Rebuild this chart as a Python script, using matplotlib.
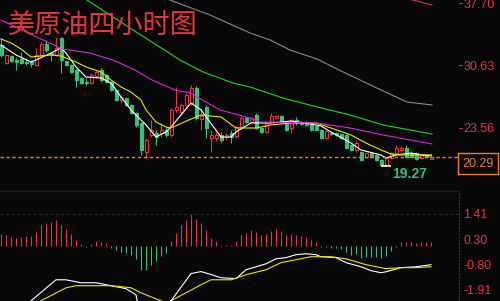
import matplotlib
matplotlib.use("Agg")
import matplotlib.pyplot as plt
from matplotlib.transforms import blended_transform_factory

# 美原油四小时图：K线 + 均线 + MACD
title = "美原油四小时图"

opens = [32.95, 30.91, 31.71, 31.25, 31.37, 31.03, 31.03, 30.69, 31.82, 33.06,
         32.04, 31.82, 33.74, 31.14, 30.69, 30.12, 29.22, 28.76, 28.65, 29.44,
         30.12, 29.56, 28.76, 27.86, 26.73, 26.95, 26.16, 25.26, 24.13, 20.85,
         22.77, 22.99, 22.99, 23.33, 22.77, 25.60, 25.37, 26.16, 26.39, 28.09,
         24.58, 25.94, 22.43, 22.43, 22.77, 22.54, 22.99, 22.66, 23.67, 24.69,
         24.24, 25.03, 23.56, 23.11, 24.24, 24.69, 24.92, 24.24, 23.56, 24.47,
         24.24, 24.24, 24.13, 23.79, 23.33, 22.43, 22.99, 22.99, 22.88, 22.77,
         21.64, 21.07, 20.85, 20.28, 20.73, 20.51, 19.94, 19.38, 20.17, 20.73,
         21.07, 21.30, 20.73, 20.73, 20.17, 20.51, 20.08]
highs = [33.74, 31.93, 31.82, 31.59, 32.16, 31.48, 31.25, 32.61, 33.29, 33.52,
         32.16, 33.85, 33.85, 31.25, 30.80, 30.23, 29.33, 29.22, 29.78, 30.12,
         30.35, 29.67, 28.88, 27.97, 27.29, 27.07, 26.27, 25.37, 24.24, 22.43,
         24.47, 23.33, 24.13, 23.67, 25.82, 28.20, 26.39, 27.52, 28.42, 28.31,
         25.82, 26.16, 23.33, 23.11, 23.11, 22.99, 23.33, 23.90, 24.92, 24.80,
         24.80, 25.26, 23.67, 24.24, 25.26, 25.03, 25.03, 24.35, 24.58, 24.80,
         24.35, 24.35, 24.24, 23.90, 23.45, 23.33, 23.11, 23.11, 22.99, 22.88,
         21.75, 22.20, 20.96, 20.85, 20.85, 20.62, 20.05, 20.28, 20.85, 21.64,
         21.52, 21.64, 20.85, 20.85, 20.62, 20.62, 20.75]
lows = [31.59, 30.80, 31.03, 30.12, 30.80, 30.69, 30.46, 30.57, 31.71, 32.16,
        31.14, 31.71, 29.78, 30.57, 29.78, 28.20, 28.54, 28.42, 28.54, 29.22,
        28.76, 28.65, 27.75, 26.61, 26.39, 26.05, 25.14, 23.67, 20.51, 20.17,
        22.54, 21.64, 22.54, 22.54, 22.54, 25.37, 25.03, 25.94, 26.16, 24.47,
        23.33, 22.43, 20.85, 22.09, 21.98, 22.20, 21.86, 22.43, 23.45, 24.13,
        24.13, 23.45, 22.99, 22.99, 24.13, 24.58, 24.13, 23.22, 22.99, 23.90,
        23.90, 23.79, 23.22, 23.22, 22.32, 22.32, 22.77, 22.66, 22.32, 21.18,
        20.96, 20.85, 19.83, 20.17, 20.17, 19.83, 19.38, 19.27, 20.05, 20.51,
        20.96, 20.17, 20.17, 19.94, 20.05, 20.17, 20.00]
closes = [31.82, 31.82, 31.14, 31.03, 30.91, 30.91, 30.80, 31.82, 33.06, 32.38,
          31.82, 32.61, 31.25, 30.69, 29.90, 28.99, 28.65, 28.65, 29.56, 29.90,
          28.99, 28.76, 27.86, 26.73, 27.07, 26.16, 25.26, 23.90, 21.07, 22.20,
          23.33, 22.54, 23.33, 22.77, 25.60, 25.94, 26.16, 27.29, 28.09, 24.69,
          24.92, 23.56, 22.77, 22.77, 22.20, 22.77, 22.54, 23.67, 24.69, 24.24,
          24.69, 23.56, 23.11, 24.13, 24.92, 24.92, 24.24, 23.33, 24.47, 24.13,
          24.01, 23.90, 23.33, 23.33, 22.43, 23.22, 22.88, 22.77, 22.43, 21.30,
          21.07, 21.86, 19.94, 20.73, 20.28, 19.94, 19.38, 20.17, 20.73, 21.30,
          21.30, 20.28, 20.28, 20.05, 20.51, 20.28, 20.29]

# 均线（读图取点）
ma5_x = [0, 3, 6, 7, 10, 12, 13, 15, 17, 20, 22, 24, 26, 29, 31, 33, 34, 38, 40,
         44, 46, 47, 50, 54, 58, 62, 64, 66, 70, 72, 76, 77, 79, 82, 84, 86]
ma5_y = [32.95, 31.82, 31.03, 31.25, 32.04, 32.61, 32.04, 30.46, 29.33, 29.22,
         28.65, 27.07, 25.60, 23.90, 22.54, 23.11, 23.67, 26.39, 25.60, 22.54,
         22.54, 23.11, 24.13, 24.13, 24.35, 24.01, 23.79, 23.11, 21.86, 21.07,
         20.51, 20.17, 20.51, 20.73, 20.51, 20.40]
ma10_x = [0, 2, 4, 6, 8, 10, 12, 15, 17, 20, 22, 24, 26, 28, 29, 31, 33, 34, 38,
          40, 44, 47, 51, 54, 58, 63, 66, 70, 73, 76, 78, 80, 86]
ma10_y = [33.63, 33.18, 32.50, 31.59, 31.71, 31.82, 31.71, 31.03, 30.46, 29.90,
          28.99, 28.20, 27.63, 26.73, 25.60, 24.24, 23.67, 23.56, 24.58, 25.03,
          24.80, 23.56, 23.56, 23.90, 24.13, 24.13, 23.56, 22.77, 21.86, 21.07,
          20.62, 20.51, 20.51]
ma20_x = [0, 8.4, 12.2, 17.8, 22.4, 26.8, 30.2, 34.8, 37.8, 43.8, 49.8, 51.8, 63,
          69.8, 76.4, 86.2]
ma20_y = [35.78, 33.52, 32.50, 32.04, 31.25, 30.12, 28.99, 27.86, 27.52, 25.60,
          24.69, 24.24, 24.13, 23.56, 22.77, 21.75]
ma60_x = [15.8, 17.2, 26.4, 35.8, 40.4, 46.4, 49.8, 56.4, 63.2, 69.8, 76.4, 86.2]
ma60_y = [38.61, 38.04, 34.65, 31.25, 29.90, 28.65, 28.20, 26.95, 25.94, 25.03,
          23.90, 22.88]
ma120_x = [32.8, 33.8, 41.8, 49.8, 53.8, 57.8, 63.2, 68.4, 71.8, 76.4, 81.2, 86.2]
ma120_y = [38.27, 38.04, 36.34, 34.31, 33.52, 32.38, 31.37, 29.90, 28.99, 27.75,
           26.50, 26.16]
ma250_x = [80.8, 82.4, 86.2]
ma250_y = [38.27, 38.04, 37.47]

price_ticks = [37.70, 30.63, 23.56]
price_labels = ["37.70", "30.63", "23.56"]
last_price = 20.29
low_price = 19.27

# MACD
macd_bar = [0.51, 0.47, 0.41, 0.36, 0.38, 0.43, 0.43, 0.60, 0.91, 1.00,
            1.04, 1.13, 0.91, 0.73, 0.51, 0.28, 0.07, -0.06, 0.07, 0.21,
            0.16, 0.12, -0.07, -0.19, -0.25, -0.32, -0.39, -0.58, -1.07, -1.07,
            -0.82, -0.67, -0.45, -0.32, 0.21, 0.57, 0.91, 1.13, 1.39, 1.17,
            1.00, 0.69, 0.34, 0.21, 0.03, 0.03, 0.03, 0.21, 0.47, 0.56,
            0.69, 0.60, 0.47, 0.51, 0.64, 0.73, 0.64, 0.47, 0.51, 0.47,
            0.43, 0.38, 0.25, 0.16, -0.04, -0.06, -0.10, -0.10, -0.14, -0.28,
            -0.41, -0.36, -0.54, -0.50, -0.50, -0.50, -0.54, -0.45, -0.23, -0.06,
            0.16, 0.16, 0.16, 0.12, 0.16, 0.16, 0.16]
dif_x = [5, 6, 11, 13, 16, 19, 22, 25, 27, 28, 33, 34, 38, 40, 42, 44, 47, 49, 51,
         53, 55, 57, 59, 61, 63, 64, 67, 69, 72, 74, 76, 77, 80, 83, 86]
dif_y = [-2.84, -2.40, -1.48, -1.48, -1.61, -1.61, -1.74, -1.87, -2.14, -3.23,
         -3.23, -2.40, -1.21, -1.12, -1.25, -1.39, -1.43, -1.04, -0.91, -0.78,
         -0.56, -0.51, -0.38, -0.34, -0.38, -0.47, -0.51, -0.73, -0.91, -1.08,
         -1.17, -1.13, -0.95, -0.91, -0.82]
dea_x = [7, 8, 13, 15, 18, 22, 26, 28, 32, 33, 34, 37, 40, 42, 44, 46, 49, 53, 56,
         59, 62, 66, 69, 73, 77, 80, 83, 86]
dea_y = [-2.84, -2.40, -1.83, -1.74, -1.74, -1.74, -1.83, -2.05, -2.40, -2.53,
         -2.40, -2.05, -1.70, -1.48, -1.48, -1.48, -1.26, -1.04, -0.73, -0.60,
         -0.47, -0.47, -0.56, -0.82, -0.99, -0.95, -0.95, -0.91]
macd_ticks = [1.41, 0.30, -0.80, -1.91]
macd_labels = ["1.41", "0.30", "-0.80", "-1.91"]

BG = "#080808"
RED = "#f0303c"
GREEN = "#34c27a"
ORANGE = "#e8821e"

plt.rcParams['font.family'] = ['Liberation Sans', 'DejaVu Sans']

fig = plt.figure(figsize=(5, 3.01), dpi=100, facecolor=BG)
ax = fig.add_axes([0, 110 / 301, 459 / 500, 191 / 301], facecolor=BG)
ax2 = fig.add_axes([0, 0, 459 / 500, 110 / 301], facecolor=BG)

n = len(closes)
idx = list(range(n))

# K线：阳线空心红，阴线实心绿
for i in idx:
    up = closes[i] >= opens[i]
    col = RED if up else GREEN
    ax.vlines(i, lows[i], highs[i], color=col, lw=0.8, zorder=2)
    lo = min(opens[i], closes[i])
    h = max(abs(closes[i] - opens[i]), 0.06)
    ax.bar(i, h, bottom=lo, width=0.6, facecolor=BG if up else GREEN,
           edgecolor=col, linewidth=0.8, zorder=3)

ax.plot(ma5_x, ma5_y, color="white", lw=0.8, zorder=4)
ax.plot(ma10_x, ma10_y, color="#e8e800", lw=0.8, zorder=4)
ax.plot(ma20_x, ma20_y, color="#e020e0", lw=0.8, zorder=4)
ax.plot(ma60_x, ma60_y, color="#20d820", lw=0.8, zorder=4)
ax.plot(ma120_x, ma120_y, color="#8a8a8a", lw=0.8, zorder=4)
ax.plot(ma250_x, ma250_y, color="#e03030", lw=0.8, zorder=4)

ax.axhline(last_price, color=ORANGE, lw=1.0, dashes=(2.4, 1.9), zorder=5,
           clip_on=False)

i_low = lows.index(min(lows))
ax.plot(i_low, low_price, marker='_', ms=7, mew=1.2, color="white", zorder=6)
ax.annotate(f"{low_price:.2f}", xy=(i_low, low_price), xytext=(4.5, -5.5),
            textcoords="offset points", color=GREEN, fontsize=10,
            fontweight="bold", ha="left", va="center")

trans = blended_transform_factory(ax.transAxes, ax.transData)
ax.annotate(f"{last_price:.2f}", xy=(1.0, last_price), xycoords=trans,
            xytext=(2.6, -5.0), textcoords="offset points", color=ORANGE,
            fontsize=9, ha="left", va="center", annotation_clip=False,
            bbox=dict(boxstyle="square,pad=0.35", fc=BG, ec=ORANGE, lw=1.0))

ax.set_xlim(-0.2, 91.6)
ax.set_ylim(16.43, 38.04)
ax.set_xticks([])
ax.yaxis.tick_right()
ax.set_yticks(price_ticks)
ax.set_yticklabels(price_labels)
ax.tick_params(axis='y', colors=RED, labelcolor=RED, labelsize=9,
               length=2.2, width=0.8, pad=0.8)
for s in ax.spines.values():
    s.set_visible(False)

fig.text(8 / 500, 1 - 13 / 301, title, color="#e8343a", fontsize=19.5,
         family=['Noto Sans CJK SC', 'DejaVu Sans'], ha="left", va="top")

# MACD
bar_cols = [RED if v >= 0 else GREEN for v in macd_bar]
ax2.vlines(idx, 0, macd_bar, colors=bar_cols, lw=0.8)
ax2.plot(dif_x, dif_y, color="white", lw=0.8)
ax2.plot(dea_x, dea_y, color="#e8e800", lw=0.8)
ax2.axhline(macd_ticks[0], color="#2a2a2a", lw=0.8, dashes=(2.5, 2.5))

ax2.set_xlim(-0.2, 91.6)
ax2.set_ylim(-2.41, 2.41)
ax2.set_xticks([])
ax2.yaxis.tick_right()
ax2.set_yticks(macd_ticks)
ax2.set_yticklabels(macd_labels)
ax2.tick_params(axis='y', colors=RED, labelcolor=RED, labelsize=9,
                length=0, pad=3)
for k, s in ax2.spines.items():
    s.set_visible(False)
ax2.spines['top'].set_visible(True)
ax2.spines['top'].set_color("#1e1e1e")
ax2.spines['top'].set_linewidth(1.0)
ax2.spines['right'].set_visible(True)
ax2.spines['right'].set_color("#3a3a3a")
ax2.spines['right'].set_linestyle((0, (1, 2)))
ax2.spines['right'].set_linewidth(0.8)

fig.savefig("out.png", dpi=100, facecolor=BG)
